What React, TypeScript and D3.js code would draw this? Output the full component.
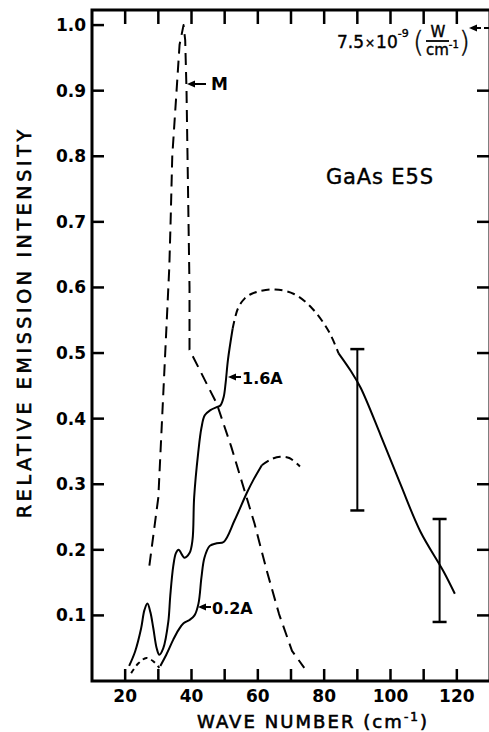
import React from "react";
import * as d3 from "d3";

type Pt = [number, number];

// Wave number (cm^-1) vs relative emission intensity
const curveM: Pt[] = [
  [27.3, 0.176], [30, 0.28], [31.7, 0.46], [33.3, 0.63], [33.7, 0.7], [34.2, 0.8],
  [35.5, 0.9], [36.4, 0.97], [37.6, 1.0], [38.1, 0.977], [38.5, 0.9], [38.8, 0.8],
  [39.1, 0.7], [39.4, 0.6], [39.4, 0.505], [43.5, 0.464], [47.6, 0.423], [52, 0.357],
  [56, 0.29], [59, 0.24], [62.7, 0.168], [66.4, 0.102], [70.3, 0.046], [74, 0.02],
];

// 1.6 A: solid rise, dashed plateau, solid fall
const curve16Rise: Pt[] = [
  [21.2, 0.023], [23, 0.045], [24.8, 0.08], [25.8, 0.108], [26.7, 0.118], [27.6, 0.105],
  [28.5, 0.08], [29.5, 0.05], [30.3, 0.04], [31.5, 0.05], [33, 0.09], [33.6, 0.13],
  [34.5, 0.175], [35.3, 0.195], [36.1, 0.2], [37.9, 0.188], [39.4, 0.195], [40.3, 0.215],
  [40.8, 0.28], [42, 0.347], [43, 0.386], [44, 0.405], [45.7, 0.413], [47.8, 0.418],
  [48.7, 0.42], [49.7, 0.433], [50.3, 0.455], [51, 0.49], [52.4, 0.537],
];
const curve16Plateau: Pt[] = [
  [52.4, 0.537], [54, 0.568], [56, 0.583], [58, 0.59], [60.3, 0.594], [65.2, 0.597],
  [70.9, 0.59], [76.4, 0.568], [81.5, 0.532], [84.3, 0.5],
];
const curve16Fall: Pt[] = [
  [84.3, 0.5], [88, 0.473], [91, 0.447], [97, 0.375], [103, 0.3], [109, 0.228],
  [116, 0.167], [119.4, 0.133],
];

// 0.2 A: dashed onset, solid rise, dashed top
const curve02Onset: Pt[] = [
  [21.8, 0.012], [24, 0.027], [26.4, 0.035], [28.5, 0.03], [30.3, 0.02],
];
const curve02Rise: Pt[] = [
  [30.6, 0.023], [32.4, 0.04], [34.5, 0.063], [36.1, 0.078], [37.6, 0.088], [39.4, 0.093],
  [40.9, 0.1], [42.1, 0.118], [43, 0.158], [43.9, 0.188], [45.5, 0.206], [47.6, 0.21],
  [49.7, 0.212], [53, 0.245], [56.7, 0.287], [58.7, 0.307], [61.2, 0.329],
];
const curve02Top: Pt[] = [
  [61.2, 0.329], [64, 0.338], [66.7, 0.342], [69.5, 0.34], [72.7, 0.327],
];

const errWave = [90, 114.8];
const errLow = [0.26, 0.09];
const errHigh = [0.506, 0.247];

const xTicks = [20, 30, 40, 50, 60, 70, 80, 90, 100, 110, 120];
const xTickLabels = [20, 40, 60, 80, 100, 120];
const yTicks = [0.1, 0.2, 0.3, 0.4, 0.5, 0.6, 0.7, 0.8, 0.9, 1.0];
const yTickLabels = ["0.1", "0.2", "0.3", "0.4", "0.5", "0.6", "0.7", "0.8", "0.9", "1.0"];
const rightTicks = [0.1, 0.2, 0.3, 0.4, 0.5, 0.6, 0.7, 0.8, 0.9];

const W = 489;
const H = 732;
const FONT = "'DejaVu Sans', sans-serif";

export default function App() {
  const x = d3.scaleLinear().domain([10, 130]).range([92, 490]);
  const y = d3.scaleLinear().domain([0, 1.023]).range([681, 10]);

  const smooth = d3
    .line<Pt>()
    .x((d) => x(d[0]))
    .y((d) => y(d[1]))
    .curve(d3.curveCatmullRom.alpha(0.5));
  const straight = d3
    .line<Pt>()
    .x((d) => x(d[0]))
    .y((d) => y(d[1]));

  const [x0, x1] = x.range();
  const [yb, yt] = y.range();

  const arrow = (tipX: number, tipY: number, len: number, key: string) => (
    <g key={key}>
      <line x1={tipX + 5} y1={tipY} x2={tipX + len} y2={tipY} stroke="#000" strokeWidth={2} />
      <polygon
        points={`${tipX},${tipY} ${tipX + 8},${tipY - 3.5} ${tipX + 8},${tipY + 3.5}`}
        fill="#000"
      />
    </g>
  );

  return (
    <svg
      width={W}
      height={H}
      style={{ position: "absolute", left: 0, top: 0, background: "#fff" }}
      fontFamily={FONT}
    >
      <rect width={W} height={H} fill="#fff" />

      {/* frame */}
      <path
        d={`M${x1},${yt} L${x0},${yt} L${x0},${yb} L${x1},${yb}`}
        fill="none"
        stroke="#000"
        strokeWidth={3}
        strokeLinejoin="miter"
      />
      <line x1={x1} y1={yt} x2={x1} y2={yb} stroke="#000" strokeWidth={3} />

      {/* ticks */}
      {xTicks.map((t) => (
        <g key={`xt${t}`}>
          <line x1={x(t)} x2={x(t)} y1={yb} y2={yb - 12} stroke="#000" strokeWidth={2.5} />
          <line x1={x(t)} x2={x(t)} y1={yt} y2={yt + 14} stroke="#000" strokeWidth={2.5} />
        </g>
      ))}
      {yTicks.map((t) => (
        <line key={`yt${t}`} x1={x0} x2={x0 + 12} y1={y(t)} y2={y(t)} stroke="#000" strokeWidth={2.5} />
      ))}
      {rightTicks.map((t) => (
        <line key={`rt${t}`} x1={x1} x2={x1 - 13} y1={y(t)} y2={y(t)} stroke="#000" strokeWidth={2.5} />
      ))}

      {/* tick labels */}
      {xTickLabels.map((t) => (
        <text key={`xl${t}`} x={x(t)} y={702} textAnchor="middle" fontSize={17} fontWeight="bold">
          {t}
        </text>
      ))}
      {yTicks.map((t, i) => (
        <text
          key={`yl${t}`}
          x={86}
          y={y(t) + 6}
          textAnchor="end"
          fontSize={17}
          fontWeight="bold"
        >
          {yTickLabels[i]}
        </text>
      ))}

      {/* axis titles */}
      <text
        transform={`translate(31,324) rotate(-90)`}
        textAnchor="middle"
        fontSize={19}
        textLength={388}
        lengthAdjust="spacing"
        stroke="#000"
        strokeWidth={0.6}
      >
        RELATIVE EMISSION INTENSITY
      </text>
      <text
        x={312}
        y={728}
        textAnchor="middle"
        fontSize={18}
        textLength={230}
        lengthAdjust="spacing"
        stroke="#000"
        strokeWidth={0.6}
      >
        WAVE NUMBER (cm<tspan dy={-7} fontSize={12}>-1</tspan>
        <tspan dy={7}>)</tspan>
      </text>

      {/* curves */}
      <g fill="none" stroke="#000" strokeWidth={2} strokeLinejoin="round">
        <path d={straight(curveM) ?? ""} strokeDasharray="12,7" />
        <path d={smooth(curve16Rise) ?? ""} />
        <path d={smooth(curve16Plateau) ?? ""} strokeDasharray="8,5" />
        <path d={smooth(curve16Fall) ?? ""} />
        <path d={smooth(curve02Onset) ?? ""} strokeDasharray="5,4" />
        <path d={smooth(curve02Rise) ?? ""} />
        <path d={smooth(curve02Top) ?? ""} strokeDasharray="8,5" />
      </g>

      {/* error bars */}
      {errWave.map((w, i) => (
        <g key={`eb${i}`} stroke="#000">
          <line x1={x(w)} x2={x(w)} y1={y(errLow[i])} y2={y(errHigh[i])} strokeWidth={2} />
          <line x1={x(w) - 7} x2={x(w) + 7} y1={y(errLow[i])} y2={y(errLow[i])} strokeWidth={2.5} />
          <line x1={x(w) - 7} x2={x(w) + 7} y1={y(errHigh[i])} y2={y(errHigh[i])} strokeWidth={2.5} />
        </g>
      ))}

      {/* curve labels */}
      {arrow(187, 84, 19, "aM")}
      <text x={211} y={90} fontSize={17} fontWeight="bold">M</text>
      {arrow(228, 377, 13, "a16")}
      <text x={242} y={384} fontSize={16} fontWeight="bold">1.6A</text>
      {arrow(198, 607, 13, "a02")}
      <text x={212} y={614} fontSize={16} fontWeight="bold">0.2A</text>

      <text
        x={326}
        y={184}
        fontSize={21}
        textLength={107}
        lengthAdjust="spacing"
        stroke="#000"
        strokeWidth={0.4}
      >
        GaAs E5S
      </text>

      {/* full-scale calibration */}
      <g stroke="#000" strokeWidth={0.4}>
        <text x={337} y={48} fontSize={17}>
          <tspan>7.5</tspan>
          <tspan dx={1} fontSize={12} dy={-1}>×</tspan>
          <tspan dx={1} dy={1}>10</tspan>
          <tspan dy={-11} fontSize={11}>-9</tspan>
        </text>
        <text x={413} y={52} fontSize={28} fontWeight="300">(</text>
        <text x={438} y={37} fontSize={15} textAnchor="middle">W</text>
        <text x={426} y={55} fontSize={15}>
          cm<tspan dy={-7} fontSize={10}>-1</tspan>
        </text>
        <text x={459} y={52} fontSize={28} fontWeight="300">)</text>
      </g>
      <line x1={426} x2={449} y1={41} y2={41} stroke="#000" strokeWidth={1.8} />
      {arrow(469, 28, 12, "aCal")}
      <line x1={484} x2={489} y1={28} y2={28} stroke="#000" strokeWidth={2} />
    </svg>
  );
}
